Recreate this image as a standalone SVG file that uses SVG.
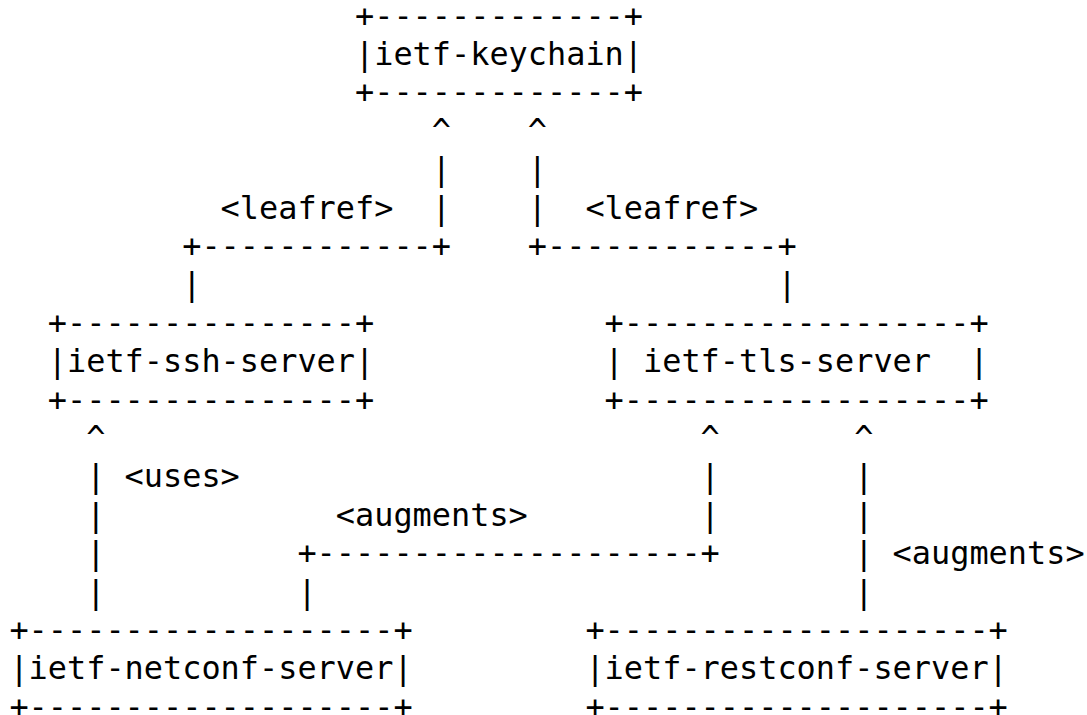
<svg xmlns="http://www.w3.org/2000/svg" width="1087" height="715" viewBox="0 0 1087 715">
<style>
text { font-family: "DejaVu Sans Mono", "Liberation Mono", monospace; font-size: 31.9px; fill: #000; }
</style>
<rect width="1087" height="715" fill="#fff"/>
<g id="node-keychain">
<text x="355" y="26.5">+-------------+</text>
<text x="355" y="64.9">|ietf-keychain|</text>
<text x="355" y="103.3">+-------------+</text>
</g>
<g id="node-ssh-server">
<text x="47.8" y="333.7">+---------------+</text>
<text x="47.8" y="372.1">|ietf-ssh-server|</text>
<text x="47.8" y="410.5">+---------------+</text>
</g>
<g id="node-tls-server">
<text x="604.6" y="333.7">+------------------+</text>
<text x="604.6" y="372.1">|</text>
<text x="643" y="372.1">ietf-tls-server</text>
<text x="969.4" y="372.1">|</text>
<text x="604.6" y="410.5">+------------------+</text>
</g>
<g id="node-netconf-server">
<text x="9.4" y="640.9">+-------------------+</text>
<text x="9.4" y="679.3">|ietf-netconf-server|</text>
<text x="9.4" y="717.7">+-------------------+</text>
</g>
<g id="node-restconf-server">
<text x="585.4" y="640.9">+--------------------+</text>
<text x="585.4" y="679.3">|ietf-restconf-server|</text>
<text x="585.4" y="717.7">+--------------------+</text>
</g>
<g id="connectors">
<text x="431.8" y="141.7">^</text>
<text x="527.8" y="141.7">^</text>
<text x="431.8" y="180.1">|</text>
<text x="527.8" y="180.1">|</text>
<text x="220.6" y="218.5">&lt;leafref&gt;</text>
<text x="431.8" y="218.5">|</text>
<text x="527.8" y="218.5">|</text>
<text x="585.4" y="218.5">&lt;leafref&gt;</text>
<text x="182.2" y="256.9">+------------+</text>
<text x="527.8" y="256.9">+------------+</text>
<text x="182.2" y="295.3">|</text>
<text x="777.4" y="295.3">|</text>
<text x="86.2" y="448.9">^</text>
<text x="700.6" y="448.9">^</text>
<text x="854.2" y="448.9">^</text>
<text x="86.2" y="487.3">|</text>
<text x="124.6" y="487.3">&lt;uses&gt;</text>
<text x="700.6" y="487.3">|</text>
<text x="854.2" y="487.3">|</text>
<text x="86.2" y="525.7">|</text>
<text x="335.8" y="525.7">&lt;augments&gt;</text>
<text x="700.6" y="525.7">|</text>
<text x="854.2" y="525.7">|</text>
<text x="86.2" y="564.1">|</text>
<text x="297.4" y="564.1">+--------------------+</text>
<text x="854.2" y="564.1">|</text>
<text x="892.6" y="564.1">&lt;augments&gt;</text>
<text x="86.2" y="602.5">|</text>
<text x="297.4" y="602.5">|</text>
<text x="854.2" y="602.5">|</text>
</g>
</svg>
